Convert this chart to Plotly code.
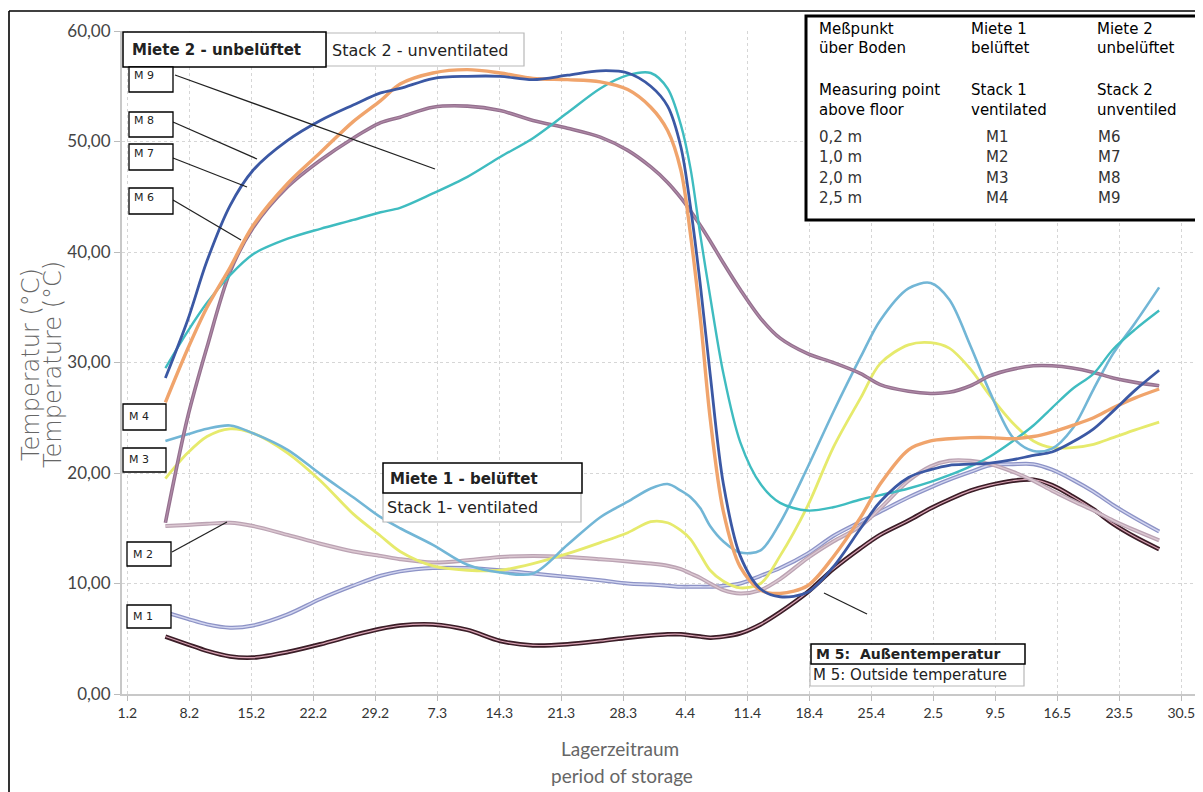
import plotly.graph_objects as go

# ---- data (day of storage counted from 1 Feb; temperatures in deg C) ----
DAYS = [4.3, 6.8, 9.0, 11.6, 14.2, 18.1, 21.8, 25.5, 28.6, 30.8, 34.5, 38.4, 42.1, 45.8,
        49.7, 53.4, 56.5, 59.1, 61.0, 62.5, 63.6, 64.7, 65.8, 67.3, 69.2, 71.5, 73.7,
        76.8, 79.7, 82.8, 85.0, 88.2, 90.7, 92.8, 95.2, 97.4, 100.0, 102.3, 104.4,
        106.7, 109.1, 111.3, 113.8, 116.5]

M1 = [7.4, 6.8, 6.3, 6.0, 6.2, 7.2, 8.6, 9.8, 10.7, 11.1, 11.4, 11.4, 11.2, 10.9, 10.6,
      10.3, 10.0, 9.9, 9.8, 9.7, 9.7, 9.7, 9.7, 9.8, 10.0, 10.7, 11.4, 12.7, 14.3, 15.6,
      16.5, 17.8, 18.7, 19.4, 20.1, 20.7, 20.8, 20.8, 20.3, 19.4, 18.3, 17.1, 15.9, 14.7]
M2 = [15.2, 15.3, 15.4, 15.5, 15.2, 14.4, 13.6, 12.9, 12.5, 12.2, 11.9, 12.1, 12.4, 12.5,
      12.4, 12.2, 12.0, 11.8, 11.6, 11.3, 10.9, 10.5, 10.0, 9.4, 9.1, 9.4, 10.4, 12.3,
      13.8, 15.2, 16.8, 19.3, 20.6, 21.1, 21.1, 20.8, 20.1, 19.3, 18.4, 17.5, 16.6, 15.7,
      14.8, 13.9]
M3 = [19.5, 21.8, 23.3, 24.0, 23.6, 21.8, 19.3, 16.3, 14.3, 12.9, 11.6, 11.2, 11.2, 11.8,
      12.7, 13.7, 14.6, 15.6, 15.5, 14.8, 14.0, 12.6, 11.2, 10.2, 9.6, 10.0, 12.5, 17.0,
      22.3, 26.8, 29.9, 31.6, 31.8, 31.3, 29.4, 27.0, 24.5, 22.9, 22.3, 22.3, 22.6, 23.2,
      23.9, 24.6]
M4 = [22.9, 23.5, 24.0, 24.3, 23.6, 22.1, 19.9, 17.8, 16.0, 15.0, 13.5, 11.7, 11.0, 10.9,
      13.5, 16.0, 17.4, 18.6, 19.0, 18.4, 17.8, 16.8, 15.2, 13.8, 12.8, 13.0, 15.5, 20.5,
      25.5, 30.5, 33.8, 36.7, 37.2, 35.7, 31.5, 27.3, 23.2, 22.0, 22.2, 24.0, 27.6, 30.8,
      33.6, 36.8]
M5 = [5.2, 4.5, 3.9, 3.4, 3.3, 3.8, 4.5, 5.3, 5.9, 6.2, 6.3, 5.8, 4.8, 4.4, 4.5, 4.8, 5.1,
      5.3, 5.4, 5.4, 5.3, 5.2, 5.1, 5.2, 5.5, 6.3, 7.4, 9.2, 11.3, 13.2, 14.4, 15.7, 16.8,
      17.6, 18.4, 18.9, 19.3, 19.4, 18.9, 17.9, 16.7, 15.4, 14.2, 13.1]
M6 = [15.5, 25.0, 31.4, 38.2, 42.2, 45.9, 48.3, 50.3, 51.7, 52.2, 53.1, 53.2, 52.8, 51.9,
      51.2, 50.4, 49.2, 47.7, 46.3, 44.9, 43.7, 42.4, 41.0, 39.0, 36.6, 34.0, 32.2, 30.8,
      30.0, 29.0, 28.0, 27.4, 27.2, 27.3, 27.9, 28.8, 29.4, 29.7, 29.7, 29.5, 29.1, 28.6,
      28.2, 27.9]
M7 = [29.5, 32.8, 35.4, 37.9, 39.8, 41.2, 42.1, 42.9, 43.6, 44.0, 45.3, 46.8, 48.6, 50.3,
      52.6, 54.8, 56.0, 56.2, 54.8, 51.5, 47.5, 41.5, 36.0, 29.0, 22.8, 19.0, 17.3, 16.6,
      16.9, 17.6, 18.0, 18.6, 19.2, 19.8, 20.6, 21.5, 22.9, 24.3, 25.9, 27.6, 29.0, 31.2,
      33.0, 34.7]
M8 = [26.4, 31.2, 35.0, 38.6, 42.4, 46.2, 49.0, 51.8, 53.7, 55.2, 56.2, 56.5, 56.2, 55.7,
      55.6, 55.4, 54.7, 53.1, 51.0, 47.4, 41.5, 34.0, 25.0, 16.5, 11.5, 9.4, 9.1, 9.8,
      12.4, 16.0, 19.0, 22.1, 22.9, 23.1, 23.2, 23.2, 23.1, 23.3, 23.7, 24.3, 25.0, 25.9,
      26.8, 27.6]
M9 = [28.6, 33.8, 39.2, 44.2, 47.4, 50.1, 51.9, 53.3, 54.4, 54.8, 55.7, 55.9, 55.9, 55.6,
      56.0, 56.4, 56.2, 55.0, 53.2, 49.5, 44.0, 37.0, 29.0, 19.0, 12.5, 9.5, 8.8, 9.2,
      11.5, 15.0, 17.4, 19.6, 20.3, 20.7, 20.8, 20.9, 21.2, 21.6, 21.9, 22.8, 24.0, 25.6,
      27.5, 29.3]

TICK_DAYS = [0, 7, 14, 21, 28, 35, 42, 49, 56, 63, 70, 77, 84, 91, 98, 105, 112, 119]
TICK_LABELS = ["1.2", "8.2", "15.2", "22.2", "29.2", "7.3", "14.3", "21.3", "28.3", "4.4",
               "11.4", "18.4", "25.4", "2.5", "9.5", "16.5", "23.5", "30.5"]
Y_TICKS = [0, 10, 20, 30, 40, 50, 60]
Y_LABELS = ["0,00", "10,00", "20,00", "30,00", "40,00", "50,00", "60,00"]

# ---- geometry (page pixels -> paper); page body has an 8px margin ----
OFF = 8
W, H = 1195, 784
L, R, T, B = 114, 0, 23, 98
PW, PH = W - L - R, H - T - B


def xp(px):
    return (px - OFF - L) / PW


def yp(py):
    return (H - B - (py - OFF)) / PH


FONT = "Lato, 'Open Sans', sans-serif"
DJ = "'DejaVu Sans', sans-serif"

fig = go.Figure()


def add_series(vals, color, width, inner=None, inner_width=1.2):
    fig.add_trace(go.Scatter(x=DAYS, y=vals, mode="lines",
                             line=dict(color=color, width=width, shape="spline", smoothing=0.9),
                             hoverinfo="skip", showlegend=False))
    if inner:
        fig.add_trace(go.Scatter(x=DAYS, y=vals, mode="lines",
                                 line=dict(color=inner, width=inner_width, shape="spline",
                                           smoothing=0.9),
                                 hoverinfo="skip", showlegend=False))


add_series(M5, "#3b1d27", 4.5, "#d9a3b4", 1.2)
add_series(M1, "#8d93c6", 4.0, "#d3d6f0", 1.4)
add_series(M2, "#bba3b3", 4.0, "#dcc8d2", 1.4)
add_series(M3, "#e6ea6c", 2.8)
add_series(M4, "#72b6d6", 2.6)
add_series(M6, "#94708e", 3.6, "#b08aa8", 1.2)
add_series(M7, "#3fbcc0", 2.4)
add_series(M8, "#f0a46c", 3.4)
add_series(M9, "#3b58a4", 2.8)

shapes = []
annotations = []


def box(x0, y0, x1, y1, color="black", width=1.5, fill="white"):
    shapes.append(dict(type="rect", xref="paper", yref="paper",
                       x0=xp(x0), x1=xp(x1), y0=yp(y1), y1=yp(y0),
                       line=dict(color=color, width=width), fillcolor=fill, layer="above"))


def line(x0, y0, x1, y1, color="#222", width=1.3):
    shapes.append(dict(type="line", xref="paper", yref="paper",
                       x0=xp(x0), x1=xp(x1), y0=yp(y0), y1=yp(y1),
                       line=dict(color=color, width=width), layer="above"))


def text(px, py, s, size=13, bold=False, color="#222", anchor="left", angle=0, family=DJ,
         weight=None):
    w = weight if weight is not None else ("bold" if bold else "normal")
    annotations.append(dict(xref="paper", yref="paper", x=xp(px), y=yp(py), text=s,
                            showarrow=False, xanchor=anchor, yanchor="middle",
                            textangle=angle, borderpad=0,
                            font=dict(family=family, size=size, color=color, weight=w)))


# figure frame (left & top)
line(9, 11, 9, 800, color="black", width=1.6)
line(9, 11, 1210, 11, color="black", width=1.6)

# Stack 2 headings
box(326, 33, 524, 66, color="#b8b8b8", width=1.2)
box(123, 32, 326, 67, color="black", width=1.5)
text(131, 50, "Miete 2 - unbelüftet", size=15, bold=True)
text(331, 50, "Stack 2 - unventilated", size=16)

# M6..M9 labels with leader lines
line(175, 75, 435, 169)
line(173, 122, 257, 159)
line(173, 158, 247, 187)
line(173, 200, 241, 240)
for (y0, y1, lab) in [(67, 92, "M 9"), (112, 137, "M 8"), (144, 170, "M 7"), (188, 214, "M 6")]:
    box(129, y0, 173, y1, width=1.3)
    text(133, (y0 + y1) / 2 - 4, lab, size=11)

# M1..M4 labels
line(172, 552, 227, 522)
for (x0, y0, x1, y1, lab) in [(123, 404, 166, 430, "M 4"), (123, 448, 166, 472, "M 3"),
                              (127, 542, 171, 566, "M 2"), (127, 605, 171, 628, "M 1")]:
    box(x0, y0, x1, y1, width=1.3)
    text(x0 + 5, (y0 + y1) / 2, lab, size=11)

# Stack 1 headings
box(383, 492, 581, 522, color="#b8b8b8", width=1.2)
box(383, 463, 582, 493, color="black", width=1.5)
text(389, 479, "Miete 1 - belüftet", size=15, bold=True)
text(386, 507, "Stack 1- ventilated", size=16)

# M5 label
line(824, 593, 867, 614)
box(810, 663, 1024, 686, color="#b8b8b8", width=1.2)
box(811, 644, 1025, 664, color="black", width=1.5)
text(815, 654, "M 5:  Außentemperatur", size=14, bold=True)
text(812, 675, "M 5: Outside temperature", size=15)

# table box
box(806, 16, 1215, 220, color="black", width=3)
hdr = [(29, "Meßpunkt", "Miete 1", "Miete 2"),
       (48, "über Boden", "belüftet", "unbelüftet"),
       (90, "Measuring point", "Stack 1", "Stack 2"),
       (110, "above floor", "ventilated", "unventiled")]
for (py, a, b, c) in hdr:
    text(818, py, a, size=15, color="#000")
    text(970, py, b, size=15, color="#000")
    text(1096, py, c, size=15, color="#000")
rows = [(137, "0,2 m", "M1", "M6"), (157, "1,0 m", "M2", "M7"),
        (178, "2,0 m", "M3", "M8"), (198, "2,5 m", "M4", "M9")]
for (py, a, b, c) in rows:
    text(818, py, a, size=15, color="#333")
    text(985, py, b, size=15, color="#333")
    text(1097, py, c, size=15, color="#333")

# axis titles
text(31, 365, "Temperatur (°C)", size=24, color="#666", anchor="center", angle=-90, weight=300)
text(53, 365, "Temperature (°C)", size=24, color="#666", anchor="center", angle=-90, weight=300)
text(620, 748, "Lagerzeitraum", size=19, color="#666", anchor="center", family=FONT)
text(622, 775, "period of storage", size=19, color="#666", anchor="center", family=FONT)

fig.update_layout(
    width=W, height=H,
    margin=dict(l=L, r=R, t=T, b=B, pad=0),
    paper_bgcolor="white", plot_bgcolor="white",
    font=dict(family=FONT, color="#444"),
    shapes=shapes, annotations=annotations,
    xaxis=dict(range=[-0.6, 121.45], tickmode="array", tickvals=TICK_DAYS,
               ticktext=TICK_LABELS, showgrid=True, gridcolor="#d6d6d6", griddash="dot",
               gridwidth=1, zeroline=False, showline=True, linecolor="#c8c8c8",
               linewidth=2, ticks="outside", ticklen=5, tickcolor="#bbb",
               tickfont=dict(family=FONT, size=14, color="#333")),
    yaxis=dict(range=[0, 60], tickmode="array", tickvals=Y_TICKS, ticktext=Y_LABELS,
               showgrid=True, gridcolor="#d6d6d6", griddash="dot", gridwidth=1,
               zeroline=False, showline=True, linecolor="#c8c8c8", linewidth=2,
               ticks="outside", ticklen=6, tickcolor="#bbb",
               tickfont=dict(family=FONT, size=17, color="#444")),
)

fig.write_html("out.html")
